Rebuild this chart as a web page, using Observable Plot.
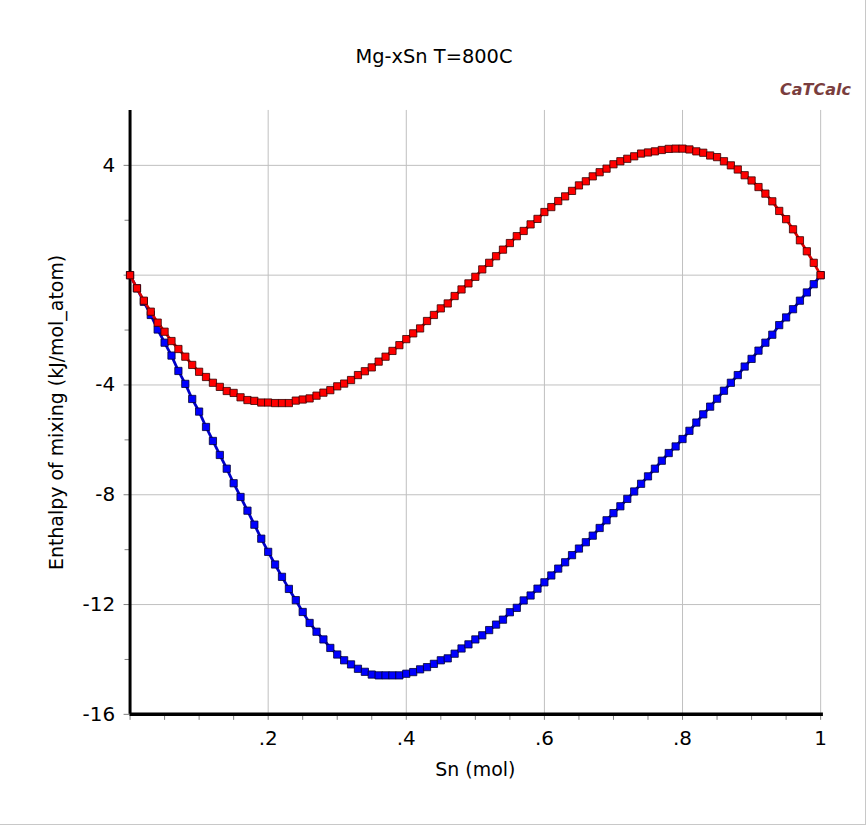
<!DOCTYPE html>
<html>
<head>
<meta charset="utf-8">
<script src="https://cdn.jsdelivr.net/npm/d3@7"></script>
<script src="https://cdn.jsdelivr.net/npm/@observablehq/plot@0.6"></script>
<style>
  html, body { margin: 0; padding: 0; background: #fff; }
  #page { position: relative; width: 865px; height: 824px; border-right: 1px solid #c8c8c8; border-bottom: 1px solid #c8c8c8; overflow: hidden; background: #fff; }
  #header { position: relative; height: 100px; }
  #title { position: absolute; left: 0; width: 868px; top: 47px; text-align: center; font-family: "DejaVu Sans", sans-serif; font-size: 19.4px; line-height: 1; color: #000; }
  #brand { position: absolute; right: 14px; top: 82px; font-family: "DejaVu Sans", sans-serif; font-weight: bold; font-style: italic; font-size: 16px; line-height: 1; color: #7a3e3e; }
  svg { display: block; }
</style>
</head>
<body>
<div id="page">
  <div id="header"><div id="title"></div><div id="brand"></div></div>
  <div id="chart"></div>
</div>
<script>
const titleText = "Mg-xSn T=800C";
const brandText = "CaTCalc";
const xLabel = "Sn (mol)";
const yLabel = "Enthalpy of mixing (kJ/mol_atom)";

// composition x(Sn), step 0.01
const xs = d3.range(0, 101).map(i => i / 100);

// red series
const redValues = [
  0, -0.48, -0.93, -1.33, -1.73, -2.06, -2.40, -2.69, -2.97, -3.27,
  -3.52, -3.71, -3.92, -4.07, -4.22, -4.29, -4.45, -4.55, -4.58, -4.64,
  -4.64, -4.66, -4.66, -4.66, -4.57, -4.53, -4.49, -4.39, -4.28, -4.19,
  -4.05, -3.95, -3.82, -3.64, -3.50, -3.36, -3.15, -2.97, -2.76, -2.55,
  -2.33, -2.12, -1.94, -1.67, -1.45, -1.21, -1.03, -0.76, -0.52, -0.30,
  -0.06, 0.21, 0.45, 0.69, 0.93, 1.17, 1.42, 1.61, 1.85, 2.05,
  2.30, 2.48, 2.70, 2.87, 3.07, 3.27, 3.42, 3.60, 3.75, 3.88,
  4.04, 4.15, 4.24, 4.33, 4.43, 4.47, 4.51, 4.56, 4.60, 4.61,
  4.61, 4.58, 4.51, 4.46, 4.36, 4.30, 4.15, 4.00, 3.85, 3.64,
  3.45, 3.21, 2.97, 2.69, 2.34, 2.04, 1.67, 1.27, 0.87, 0.45,
  0
];

// blue series
const blueValues = [
  0, -0.48, -0.97, -1.45, -1.98, -2.46, -2.93, -3.49, -3.96, -4.51,
  -4.97, -5.53, -6.04, -6.55, -7.05, -7.58, -8.08, -8.58, -9.09, -9.60,
  -10.08, -10.54, -10.99, -11.43, -11.84, -12.27, -12.67, -12.99, -13.27, -13.58,
  -13.82, -14.03, -14.18, -14.34, -14.45, -14.55, -14.58, -14.58, -14.58, -14.58,
  -14.52, -14.46, -14.36, -14.28, -14.16, -14.03, -13.96, -13.79, -13.60, -13.45,
  -13.27, -13.12, -12.93, -12.73, -12.55, -12.28, -12.12, -11.85, -11.67, -11.42,
  -11.19, -10.94, -10.69, -10.46, -10.20, -9.96, -9.73, -9.49, -9.21, -8.93,
  -8.67, -8.42, -8.15, -7.88, -7.60, -7.33, -7.05, -6.76, -6.48, -6.24,
  -5.97, -5.67, -5.37, -5.07, -4.79, -4.50, -4.21, -3.92, -3.64, -3.33,
  -3.05, -2.75, -2.46, -2.17, -1.82, -1.54, -1.24, -0.93, -0.63, -0.33,
  0
];

const xTickValues = [0.2, 0.4, 0.6, 0.8, 1];
const xTickLabels = [".2", ".4", ".6", ".8", "1"];
const xMinorTicks = d3.range(0, 21).map(i => i / 20);
const yTickValues = [4, 0, -4, -8, -12, -16];
const yTickLabels = ["4", "", "-4", "-8", "-12", "-16"];
const yMinorTicks = [2, -2, -6, -10, -14];
const yGridValues = [4, 0, -4, -8, -12];

const red = xs.map((x, i) => ({x, y: redValues[i]}));
const blue = xs.map((x, i) => ({x, y: blueValues[i]}));

document.getElementById("title").textContent = titleText;
document.getElementById("brand").textContent = brandText;

const font = "DejaVu Sans, sans-serif";

const chart = Plot.plot({
  width: 868,
  height: 724,
  marginLeft: 130,
  marginRight: 45,
  marginTop: 10,
  marginBottom: 108,
  x: {domain: [0, 1]},
  y: {domain: [-16, 6]},
  style: {fontFamily: font, fontSize: "20px", color: "#000", background: "transparent", overflow: "visible"},
  marks: [
    Plot.ruleX(xTickValues, {stroke: "#c0c0c0", strokeWidth: 1}),
    Plot.ruleY(yGridValues, {stroke: "#c0c0c0", strokeWidth: 1}),
    Plot.axisX({ticks: xMinorTicks, tickSize: 6, tickFormat: () => "", stroke: "#808080", label: null}),
    Plot.axisX({ticks: xTickValues, tickSize: 0, tickPadding: 17, tickFormat: d => xTickLabels[xTickValues.indexOf(d)], label: null, fontSize: 20}),
    Plot.axisY({ticks: yMinorTicks, tickSize: 5, tickFormat: () => "", stroke: "#808080", label: null}),
    Plot.axisY({ticks: yTickValues, tickSize: 6, tickPadding: 9, stroke: "#808080", tickFormat: d => yTickLabels[yTickValues.indexOf(d)], label: null, fontSize: 20}),
    Plot.ruleX([0], {stroke: "#000", strokeWidth: 3}),
    Plot.ruleY([-16], {stroke: "#000", strokeWidth: 3.5, x1: 0, x2: 1.004}),
    Plot.line(blue, {x: "x", y: "y", stroke: "#0000c8", strokeWidth: 2.8}),
    Plot.dot(blue, {x: "x", y: "y", symbol: "square", r: 4.1, fill: "#0000ff", stroke: "#000033", strokeWidth: 0.8}),
    Plot.line(red, {x: "x", y: "y", stroke: "#dd0000", strokeWidth: 2.8}),
    Plot.dot(red, {x: "x", y: "y", symbol: "square", r: 4.1, fill: "#ff0000", stroke: "#330000", strokeWidth: 0.8}),
    Plot.text([yLabel], {text: d => d, frameAnchor: "left", textAnchor: "middle", lineAnchor: "middle", rotate: -90, dx: -73, fontSize: 19, fill: "#000"}),
    Plot.text([xLabel], {text: d => d, frameAnchor: "bottom", textAnchor: "middle", lineAnchor: "middle", dy: 56, fontSize: 19, fill: "#000"})
  ]
});
document.getElementById("chart").appendChild(chart);
</script>
</body>
</html>
